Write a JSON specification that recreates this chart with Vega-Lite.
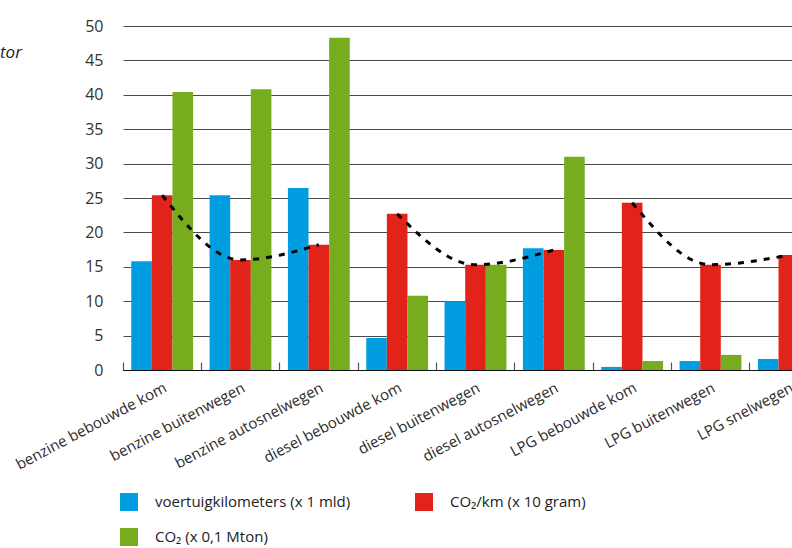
{
  "$schema": "https://vega.github.io/schema/vega-lite/v6.json",
  "autosize": {"type": "none"},
  "padding": {"left": 123, "top": 26, "right": 0, "bottom": 178},
  "width": 669,
  "height": 344,
  "background": "white",
  "title": {
    "text": "tor",
    "orient": "top",
    "anchor": "start",
    "frame": "group",
    "offset": 0,
    "dx": -123,
    "dy": 57,
    "baseline": "alphabetic",
    "font": "Open Sans",
    "fontStyle": "italic",
    "fontWeight": "normal",
    "fontSize": 17,
    "color": "#222222"
  },
  "config": {
    "view": {"stroke": null},
    "font": "Open Sans",
    "axis": {"labelFont": "Open Sans", "labelColor": "#333333"},
    "legend": {"labelFont": "Open Sans"}
  },
  "data": {
    "values": [
      {"cat": "benzine bebouwde kom", "fuel": "benzine", "series": "voertuigkilometers (x 1 mld)", "value": 15.8},
      {"cat": "benzine bebouwde kom", "fuel": "benzine", "series": "CO₂/km (x 10 gram)", "value": 25.4},
      {"cat": "benzine bebouwde kom", "fuel": "benzine", "series": "CO₂ (x 0,1 Mton)", "value": 40.4},
      {"cat": "benzine buitenwegen", "fuel": "benzine", "series": "voertuigkilometers (x 1 mld)", "value": 25.4},
      {"cat": "benzine buitenwegen", "fuel": "benzine", "series": "CO₂/km (x 10 gram)", "value": 16.0},
      {"cat": "benzine buitenwegen", "fuel": "benzine", "series": "CO₂ (x 0,1 Mton)", "value": 40.8},
      {"cat": "benzine autosnelwegen", "fuel": "benzine", "series": "voertuigkilometers (x 1 mld)", "value": 26.45},
      {"cat": "benzine autosnelwegen", "fuel": "benzine", "series": "CO₂/km (x 10 gram)", "value": 18.2},
      {"cat": "benzine autosnelwegen", "fuel": "benzine", "series": "CO₂ (x 0,1 Mton)", "value": 48.3},
      {"cat": "diesel bebouwde kom", "fuel": "diesel", "series": "voertuigkilometers (x 1 mld)", "value": 4.65},
      {"cat": "diesel bebouwde kom", "fuel": "diesel", "series": "CO₂/km (x 10 gram)", "value": 22.7},
      {"cat": "diesel bebouwde kom", "fuel": "diesel", "series": "CO₂ (x 0,1 Mton)", "value": 10.8},
      {"cat": "diesel buitenwegen", "fuel": "diesel", "series": "voertuigkilometers (x 1 mld)", "value": 10.0},
      {"cat": "diesel buitenwegen", "fuel": "diesel", "series": "CO₂/km (x 10 gram)", "value": 15.3},
      {"cat": "diesel buitenwegen", "fuel": "diesel", "series": "CO₂ (x 0,1 Mton)", "value": 15.3},
      {"cat": "diesel autosnelwegen", "fuel": "diesel", "series": "voertuigkilometers (x 1 mld)", "value": 17.7},
      {"cat": "diesel autosnelwegen", "fuel": "diesel", "series": "CO₂/km (x 10 gram)", "value": 17.45},
      {"cat": "diesel autosnelwegen", "fuel": "diesel", "series": "CO₂ (x 0,1 Mton)", "value": 31.0},
      {"cat": "LPG bebouwde kom", "fuel": "LPG", "series": "voertuigkilometers (x 1 mld)", "value": 0.45},
      {"cat": "LPG bebouwde kom", "fuel": "LPG", "series": "CO₂/km (x 10 gram)", "value": 24.3},
      {"cat": "LPG bebouwde kom", "fuel": "LPG", "series": "CO₂ (x 0,1 Mton)", "value": 1.3},
      {"cat": "LPG buitenwegen", "fuel": "LPG", "series": "voertuigkilometers (x 1 mld)", "value": 1.3},
      {"cat": "LPG buitenwegen", "fuel": "LPG", "series": "CO₂/km (x 10 gram)", "value": 15.3},
      {"cat": "LPG buitenwegen", "fuel": "LPG", "series": "CO₂ (x 0,1 Mton)", "value": 2.2},
      {"cat": "LPG snelwegen", "fuel": "LPG", "series": "voertuigkilometers (x 1 mld)", "value": 1.6},
      {"cat": "LPG snelwegen", "fuel": "LPG", "series": "CO₂/km (x 10 gram)", "value": 16.7},
      {"cat": "LPG snelwegen", "fuel": "LPG", "series": "CO₂ (x 0,1 Mton)", "value": 2.6}
    ]
  },
  "encoding": {
    "x": {
      "field": "cat",
      "type": "nominal",
      "sort": null,
      "scale": {"range": [0, 705], "paddingInner": 0, "paddingOuter": 0},
      "axis": {
        "title": null,
        "bandPosition": 0,
        "labelAngle": -28,
        "labelAlign": "right",
        "labelBaseline": "top",
        "labelFontSize": 15,
        "labelColor": "#2a2a2a",
        "labelPadding": 18,
        "labelOverlap": false,
        "labelBound": false,
        "labelFlush": false,
        "tickSize": -8,
        "tickColor": "#555555",
        "tickWidth": 1.2,
        "domainColor": "#111111",
        "domainWidth": 1.2,
        "grid": false
      }
    },
    "xOffset": {
      "field": "series",
      "type": "nominal",
      "sort": ["voertuigkilometers (x 1 mld)", "CO₂/km (x 10 gram)", "CO₂ (x 0,1 Mton)"],
      "scale": {"paddingInner": 0, "paddingOuter": 0.4}
    },
    "y": {
      "field": "value",
      "type": "quantitative",
      "scale": {"domain": [0, 50], "nice": false},
      "axis": {
        "title": null,
        "values": [0, 5, 10, 15, 20, 25, 30, 35, 40, 45, 50],
        "domain": false,
        "ticks": false,
        "labelPadding": 20,
        "labelFontSize": 16,
        "labelColor": "#333333",
        "gridColor": "#4a4a4a",
        "gridWidth": 1.2
      }
    }
  },
  "layer": [
    {
      "mark": {"type": "bar"},
      "encoding": {
        "color": {
          "field": "series",
          "type": "nominal",
          "sort": ["voertuigkilometers (x 1 mld)", "CO₂/km (x 10 gram)", "CO₂ (x 0,1 Mton)"],
          "scale": {
            "domain": ["voertuigkilometers (x 1 mld)", "CO₂/km (x 10 gram)", "CO₂ (x 0,1 Mton)"],
            "range": ["#009ee0", "#e2231a", "#76ac1e"]
          },
          "legend": {
            "title": null,
            "orient": "none",
            "legendX": -3,
            "legendY": 467,
            "columns": 2,
            "direction": "horizontal",
            "symbolType": "square",
            "symbolSize": 324,
            "symbolStrokeWidth": 0,
            "symbolOpacity": 1,
            "labelFontSize": 15,
            "labelColor": "#222222",
            "labelOffset": 17,
            "columnPadding": 64,
            "rowPadding": 17,
            "labelLimit": 400
          }
        }
      }
    },
    {
      "transform": [{"filter": "datum.series === 'CO₂/km (x 10 gram)'"}],
      "mark": {"type": "line", "interpolate": "monotone", "color": "#000000", "strokeWidth": 3, "strokeDash": [6, 7]},
      "encoding": {
        "detail": {"field": "fuel", "type": "nominal"}
      }
    }
  ]
}
